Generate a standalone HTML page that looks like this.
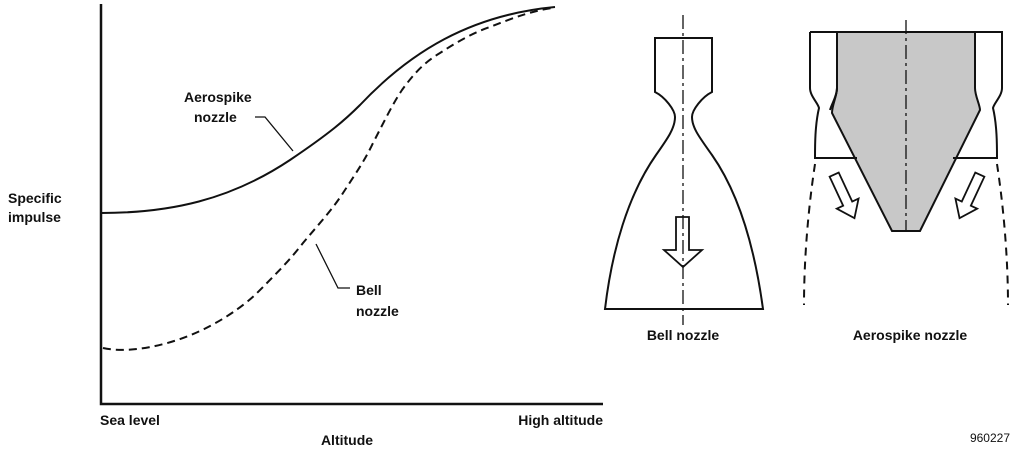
<!DOCTYPE html>
<html><head><style>
html,body{margin:0;padding:0;background:#fff;}
svg{display:block;}
text{font-family:"Liberation Sans",Arial,sans-serif;font-weight:bold;font-size:14px;fill:#111;}
</style></head><body>
<svg width="1024" height="451" viewBox="0 0 1024 451">
<g fill="none" stroke="#111" stroke-width="2">
<path d="M101 4 V404 H603" stroke-width="2.5"/>
<path d="M101 213 C170 213 230 200 290 160 C330 133 345 120 360 105 C410 52 470 15 555 7"/>
<path d="M103 348 C130 354 170 345 200 331 C230 317 250 300 257 293 C275 275 290 260 303 243 C318 225 332 210 343 193 C356 173 365 160 373 143 C385 120 392 105 402 90 C415 72 425 62 440 53 C460 40 475 32 490 27 C515 17 535 10 553 8" stroke-dasharray="8,5"/>
<path d="M255 117 H265 L293 151" stroke-width="1.3"/>
<path d="M316 244 L338 288 H350" stroke-width="1.3"/>
<path d="M675 117 C675 110 665 97 655 92 V38 H712 V92 C702 97 692 110 692 117 C692 128 700 138 712 155 C740 195 755 250 763 309 H605 C612 250 628 195 656 155 C668 138 675 128 675 117 Z"/>
<path d="M683 15 V325" stroke-width="1.3" stroke-dasharray="14,4,3,4"/>
<path d="M676 217 H689 V250 H702 L683 267 L664 250 H676 Z" stroke-width="1.8"/>
<path d="M837 32 H975 V88 C975 96 980 105 980 110 L920 231 H892 L832 113 C832 105 837 96 837 88 Z" fill="#c8c8c8"/>
<path d="M810 32 H837 V88 C837 96 832 103 830 110 M810 32 V88 C810 96 818 103 819 108 C815 125 815 145 815 158 H857"/>
<path d="M975 32 H1002 V88 C1002 96 994 103 993 108 C997 125 997 145 997 158 H953"/>
<path d="M906 20 V231" stroke-width="1.3" stroke-dasharray="14,4,3,4"/>
<path d="M815 164 C808 210 804 260 804 305 M997 164 C1004 210 1008 260 1008 305" stroke-dasharray="8,6"/>
<g transform="translate(846,200) rotate(-25)"><path d="M-5 -28 H5 V4 H12 L0 20 L-12 4 H-5 Z" stroke-width="1.8"/></g>
<g transform="translate(968,200) rotate(25)"><path d="M-5 -28 H5 V4 H12 L0 20 L-12 4 H-5 Z" stroke-width="1.8"/></g>
</g>
<text x="8" y="203">Specific</text>
<text x="8" y="222">impulse</text>
<text x="184" y="102">Aerospike</text>
<text x="194" y="122">nozzle</text>
<text x="356" y="295">Bell</text>
<text x="356" y="316">nozzle</text>
<text x="100" y="425">Sea level</text>
<text x="603" y="425" text-anchor="end">High altitude</text>
<text x="347" y="445" text-anchor="middle">Altitude</text>
<text x="683" y="340" text-anchor="middle">Bell nozzle</text>
<text x="910" y="340" text-anchor="middle">Aerospike nozzle</text>
<text x="1010" y="442" text-anchor="end" style="font-weight:normal;font-size:12px">960227</text>
</svg>
</body></html>
